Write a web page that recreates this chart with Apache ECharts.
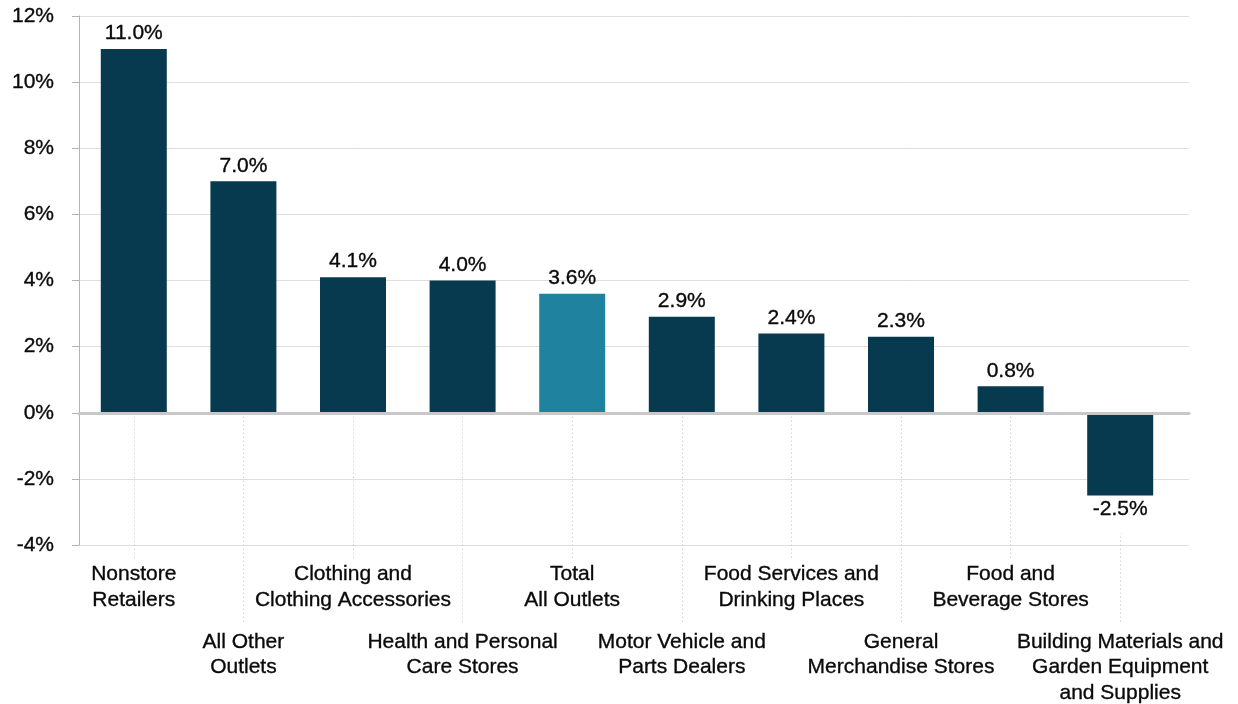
<!DOCTYPE html>
<html>
<head>
<meta charset="utf-8">
<script src="https://cdn.jsdelivr.net/npm/echarts@6/dist/echarts.min.js"></script>
<style>
  html, body { margin: 0; padding: 0; background: #ffffff; }
  #chart { width: 1238px; height: 704px; }
</style>
</head>
<body>
<div id="chart"></div>
<script>
// Retail sales growth by outlet type, percent
const categories = [
  'Nonstore\nRetailers',
  'All Other\nOutlets',
  'Clothing and\nClothing Accessories',
  'Health and Personal\nCare Stores',
  'Total\nAll Outlets',
  'Motor Vehicle and\nParts Dealers',
  'Food Services and\nDrinking Places',
  'General\nMerchandise Stores',
  'Food and\nBeverage Stores',
  'Building Materials and\nGarden Equipment\nand Supplies'
];
const growth = [11.0, 7.0, 4.1, 4.0, 3.6, 2.9, 2.4, 2.3, 0.8, -2.5];
const highlighted = 'Total\nAll Outlets';
const yTicks = [-4, -2, 0, 2, 4, 6, 8, 10, 12];

const FONT = "'Liberation Sans', Arial, Helvetica, sans-serif";
const NAVY = '#07394f';
const TEAL = '#1f83a0';
const TEXT = '#0a0a0a';

const yMin = yTicks[0];
const yMax = yTicks[yTicks.length - 1];
const yStep = yTicks[1] - yTicks[0];

// shared text look: slightly heavier than the regular face
const textStyle = {
  color: TEXT, fontFamily: FONT, fontSize: 21,
  textBorderColor: TEXT, textBorderWidth: 0.35
};

const barData = growth.map((v, i) => ({
  value: v,
  itemStyle: { color: categories[i] === highlighted ? TEAL : NAVY },
  label: v < 0
    ? { position: 'bottom', distance: 1, backgroundColor: '#ffffff', padding: [2, 6, 14, 6] }
    : { position: 'top', distance: 5 }
}));

const dottedTick = { type: [1, 3], color: '#bdbdbd', width: 1 };
const catLabel = Object.assign({ lineHeight: 25.5, align: 'center' }, textStyle);

const chart = echarts.init(document.getElementById('chart'), null, { renderer: 'canvas' });

chart.setOption({
  animation: false,
  backgroundColor: '#ffffff',
  grid: [
    // backdrop: value gridlines and the zero line, running a bit past the last bar
    { left: 79, right: 49, top: 16, bottom: 159, outerBoundsMode: 'none', containLabel: false },
    // bars and category labels
    { left: 79, right: 63, top: 16, bottom: 159, outerBoundsMode: 'none', containLabel: false }
  ],
  xAxis: [
    {
      gridIndex: 0, type: 'value', min: 0, max: 1, z: 5,
      axisLine: { show: true, onZero: true, lineStyle: { color: '#c8c8c8', width: 3 } },
      axisTick: { show: false }, axisLabel: { show: false }, splitLine: { show: false }
    },
    {
      gridIndex: 1, type: 'category', data: categories, position: 'bottom',
      axisLine: { show: false, onZero: true, onZeroAxisIndex: 1 },
      axisTick: {
        show: true, alignWithLabel: true, length: 147,
        interval: (i) => i % 2 === 0, lineStyle: dottedTick
      },
      axisLabel: Object.assign({ interval: (i) => i % 2 === 0, margin: 16.5 }, catLabel),
      splitLine: { show: false }
    },
    {
      gridIndex: 1, type: 'category', data: categories, position: 'bottom',
      axisLine: { show: false, onZero: true, onZeroAxisIndex: 1 },
      axisTick: {
        show: true, alignWithLabel: true, length: 212,
        interval: (i) => i % 2 === 1, lineStyle: dottedTick
      },
      axisLabel: Object.assign({ interval: (i) => i % 2 === 1, margin: 84 }, catLabel),
      splitLine: { show: false }
    }
  ],
  yAxis: [
    {
      gridIndex: 0, type: 'value', min: yMin, max: yMax, interval: yStep,
      axisLine: { show: true, lineStyle: { color: '#b3b3b3', width: 1 } },
      axisTick: { show: true, length: 7, lineStyle: { color: '#b3b3b3', width: 1 } },
      splitLine: { show: true, lineStyle: { color: '#dedede', width: 1 } },
      axisLabel: Object.assign({ formatter: '{value}%', margin: 25 }, textStyle)
    },
    {
      gridIndex: 1, type: 'value', min: yMin, max: yMax, interval: yStep,
      axisLine: { show: false }, axisTick: { show: false },
      axisLabel: { show: false }, splitLine: { show: false }
    }
  ],
  series: [
    {
      type: 'bar',
      xAxisIndex: 1,
      yAxisIndex: 1,
      data: barData,
      barWidth: 66,
      label: Object.assign({
        show: true,
        formatter: (p) => p.value.toFixed(1) + '%'
      }, textStyle)
    }
  ]
});
</script>
</body>
</html>
